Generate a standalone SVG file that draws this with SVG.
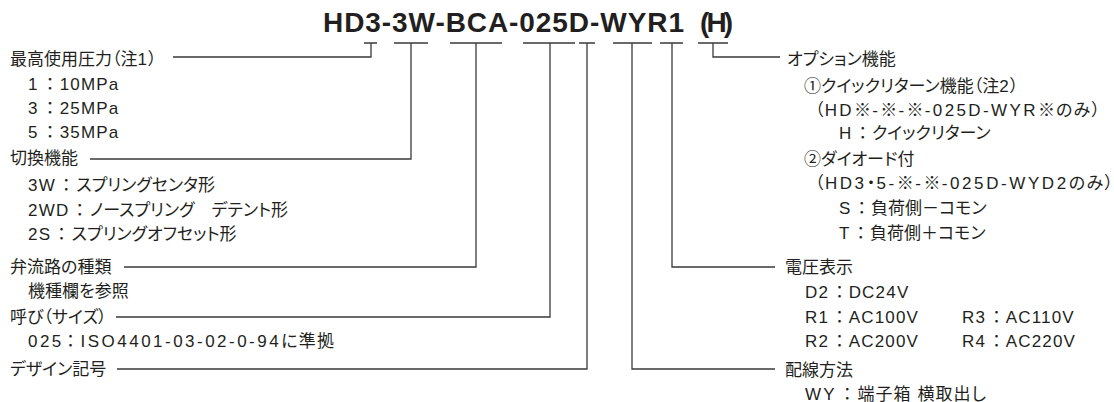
<svg xmlns="http://www.w3.org/2000/svg" width="1114" height="402" viewBox="0 0 1114 402">
<style>
.t{font-family:"Liberation Sans","Noto Sans CJK JP",sans-serif;font-size:17px;fill:#231f20;font-feature-settings:"palt" 1}
.a{letter-spacing:1.2px}
.title{font-family:"Liberation Sans","Noto Sans CJK JP",sans-serif;font-size:28px;font-weight:bold;fill:#231f20}
.c{fill:none;stroke:#3a3a3a;stroke-width:1.3}
</style>
<rect width="1114" height="402" fill="#fff"/>
<g id="title">
<text class="title" x="323" y="32" textLength="361" lengthAdjust="spacing">HD3-3W-BCA-025D-WYR1</text>
<text class="title" x="700" y="32" textLength="33" lengthAdjust="spacing">(H)</text>
</g>
<g id="connectors" class="c">
<path d="M364 43H377M371 43V57H173"/>
<path d="M394 43H428M411 43V159H90"/>
<path d="M450 43H502M476 43V267H124"/>
<path d="M523 43H575M550 43V317H116"/>
<path d="M579 43H595M587 43V369H117"/>
<path d="M613 43H652M632 43V369H775"/>
<path d="M660 43H683M672 43V267H775"/>
<path d="M698 43H728M713 43V57H780"/>
</g>
<g id="pressure">
<text class="t" x="10" y="65">最高使用圧力（注<tspan class="a">1</tspan>）</text>
<text class="t" x="28" y="90"><tspan class="a">1</tspan><tspan dx="7">：</tspan><tspan class="a" dx="5.5">10MPa</tspan></text>
<text class="t" x="28" y="114"><tspan class="a">3</tspan><tspan dx="7">：</tspan><tspan class="a" dx="5.5">25MPa</tspan></text>
<text class="t" x="28" y="138"><tspan class="a">5</tspan><tspan dx="7">：</tspan><tspan class="a" dx="5.5">35MPa</tspan></text>
</g>
<g id="switching">
<text class="t" x="10" y="164">切換機能</text>
<text class="t" x="28" y="191"><tspan class="a">3W</tspan><tspan dx="6">：</tspan><tspan dx="6">スプリングセンタ形</tspan></text>
<text class="t" x="28" y="216"><tspan class="a">2WD</tspan><tspan dx="6">：</tspan><tspan dx="6">ノースプリング　デテント形</tspan></text>
<text class="t" x="28" y="240"><tspan class="a">2S</tspan><tspan dx="6">：</tspan><tspan dx="6">スプリングオフセット形</tspan></text>
</g>
<g id="flowpath">
<text class="t" x="10" y="273">弁流路の種類</text>
<text class="t" x="28" y="297">機種欄を参照</text>
</g>
<g id="size">
<text class="t" x="10" y="323">呼び（サイズ）</text>
<text class="t" x="28" y="347" textLength="306" lengthAdjust="spacing"><tspan class="a">025</tspan><tspan dx="2.5">：</tspan><tspan class="a" dx="4.5">ISO4401-03-02-0-94</tspan>に準拠</text>
</g>
<g id="design">
<text class="t" x="10" y="375">デザイン記号</text>
</g>
<g id="option">
<text class="t" x="787" y="65">オプション機能</text>
<text class="t" x="804" y="92">①クイックリターン機能（注<tspan class="a">2</tspan>）</text>
<text class="t" x="815" y="116" textLength="285" lengthAdjust="spacing">（<tspan class="a">HD</tspan>※<tspan class="a">-</tspan>※<tspan class="a">-</tspan>※<tspan class="a">-025D-WYR</tspan>※のみ）</text>
<text class="t" x="839" y="139"><tspan class="a">H</tspan><tspan dx="6">：</tspan><tspan dx="5">クイックリターン</tspan></text>
<text class="t" x="804" y="165">②ダイオード付</text>
<text class="t" x="815" y="189" textLength="298" lengthAdjust="spacing">（<tspan class="a">HD3</tspan>・<tspan class="a">5-</tspan>※<tspan class="a">-</tspan>※<tspan class="a">-025D-WYD2</tspan>のみ）</text>
<text class="t" x="839" y="214"><tspan class="a">S</tspan><tspan dx="6">：</tspan><tspan dx="5">負荷側－コモン</tspan></text>
<text class="t" x="839" y="239"><tspan class="a">T</tspan><tspan dx="6">：</tspan><tspan dx="5">負荷側＋コモン</tspan></text>
</g>
<g id="voltage">
<text class="t" x="785" y="273">電圧表示</text>
<text class="t" x="805" y="297.5"><tspan class="a">D2</tspan><tspan dx="6">：</tspan><tspan class="a" dx="5">DC24V</tspan></text>
<text class="t" x="805" y="322.5"><tspan class="a">R1</tspan><tspan dx="6">：</tspan><tspan class="a" dx="5">AC100V</tspan></text>
<text class="t" x="962" y="322.5"><tspan class="a">R3</tspan><tspan dx="6">：</tspan><tspan class="a" dx="5">AC110V</tspan></text>
<text class="t" x="805" y="347"><tspan class="a">R2</tspan><tspan dx="6">：</tspan><tspan class="a" dx="5">AC200V</tspan></text>
<text class="t" x="962" y="347"><tspan class="a">R4</tspan><tspan dx="6">：</tspan><tspan class="a" dx="5">AC220V</tspan></text>
</g>
<g id="wiring">
<text class="t" x="785" y="376">配線方法</text>
<text class="t" x="805" y="400" textLength="181" lengthAdjust="spacing"><tspan class="a">WY</tspan><tspan dx="6">：</tspan><tspan dx="5">端子箱 横取出し</tspan></text>
</g>
</svg>
